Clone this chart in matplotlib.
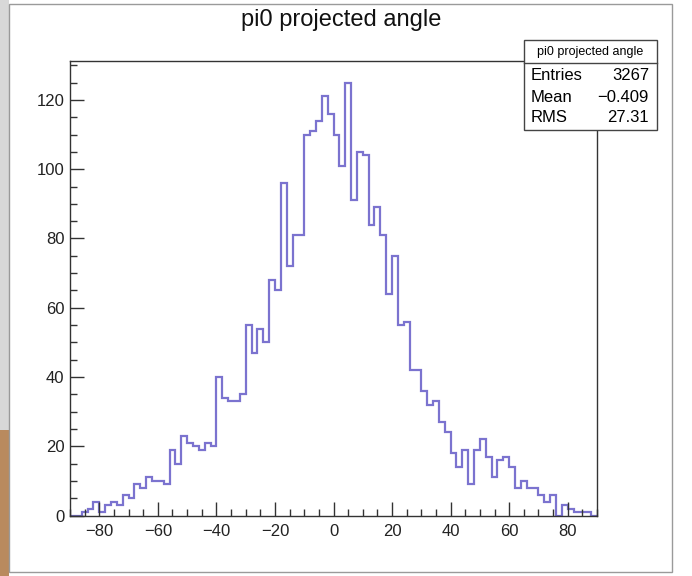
import numpy as np
import matplotlib
matplotlib.use("Agg")
import matplotlib.pyplot as plt
from matplotlib.patches import Rectangle
from matplotlib.ticker import MultipleLocator

plt.rcParams['font.family'] = ['Liberation Sans', 'DejaVu Sans']

# histogram definition (like TH1F: nbins, xmin, xmax)
nbins = 90
xmin, xmax = -90, 90
counts = [0, 0, 1, 2, 4, 1, 3, 4, 3, 6,
          5, 9, 8, 11, 10, 10, 9, 19, 15, 23,
          21, 20, 19, 21, 20, 40, 34, 33, 33, 35,
          55, 47, 54, 50, 68, 65, 96, 72, 81, 81,
          110, 111, 114, 121, 116, 110, 101, 125, 91, 105,
          104, 84, 89, 81, 64, 75, 55, 56, 42, 42,
          36, 32, 33, 27, 24, 18, 14, 19, 9, 19,
          22, 17, 11, 16, 17, 14, 8, 10, 8, 8,
          6, 4, 6, 0, 3, 2, 1, 1, 1, 0]

title = "pi0 projected angle"
stat_names = ["Entries", "Mean", "RMS"]
stat_values = ["3267", "\u22120.409", "27.31"]

W, H = 692, 576
fig = plt.figure(figsize=(W / 100, H / 100), dpi=100)
fig.patch.set_facecolor("white")

def px(x, y):
    # figure pixel coords (top-left origin) -> figure fraction
    return x / W, 1 - y / H

# screenshot window edges
fig.patches.append(Rectangle((0, 0), 9 / W, 1, transform=fig.transFigure,
                             facecolor="#d8d8d8", edgecolor="none", zorder=0))
fig.patches.append(Rectangle((0, 0), 9 / W, 146 / H, transform=fig.transFigure,
                             facecolor="#b98a5e", edgecolor="none", zorder=0))
fig.patches.append(Rectangle((9 / W, 4 / H), 663 / W, 1 - 8 / H, transform=fig.transFigure,
                             facecolor="none", edgecolor="#9a9a9a", lw=1.0, zorder=1))

l, b = px(70, 515.5)
r, t = px(597, 61)
ax = fig.add_axes([l, b, r - l, t - b])

edges = np.linspace(xmin, xmax, nbins + 1)
ax.stairs(counts, edges, color="#7b73cf", lw=1.6, baseline=0)

ax.set_xlim(xmin, xmax)
ax.set_ylim(0, max(counts) * 1.05)

ax.xaxis.set_major_locator(MultipleLocator(20))
ax.xaxis.set_minor_locator(MultipleLocator(5))
ax.yaxis.set_major_locator(MultipleLocator(20))
ax.yaxis.set_minor_locator(MultipleLocator(5))
ax.tick_params(which="both", direction="in", top=False, right=False,
               color="#333333", width=1.0, labelsize=12, labelcolor="#222222")
ax.tick_params(which="major", length=10)
ax.tick_params(which="minor", length=5)
ax.tick_params(axis="x", pad=6)
ax.tick_params(axis="y", pad=4)
for s in ax.spines.values():
    s.set_color("#333333")
    s.set_linewidth(1.0)

fig.text(*px(341, 20), title, ha="center", va="center", fontsize=17, color="#111111")

# stats box
bx0, by0 = px(524, 130)
bx1, by1 = px(657, 40)
fig.patches.append(Rectangle((bx0, by0), bx1 - bx0, by1 - by0, transform=fig.transFigure,
                             facecolor="white", edgecolor="#444444", lw=1.0, zorder=5))
sx0, sy = px(524, 63)
fig.lines.append(plt.Line2D([bx0, bx1], [sy, sy], transform=fig.transFigure,
                            color="#444444", lw=1.0, zorder=6))
fig.text(*px(590.5, 51.5), title, ha="center", va="center", fontsize=9, zorder=7)
rows_y = [76, 98, 117]
for name, val, yy in zip(stat_names, stat_values, rows_y):
    fig.text(*px(531, yy), name, ha="left", va="center", fontsize=12, zorder=7)
    fig.text(*px(649, yy), val, ha="right", va="center", fontsize=12, zorder=7)

fig.savefig("out.png", dpi=100)
